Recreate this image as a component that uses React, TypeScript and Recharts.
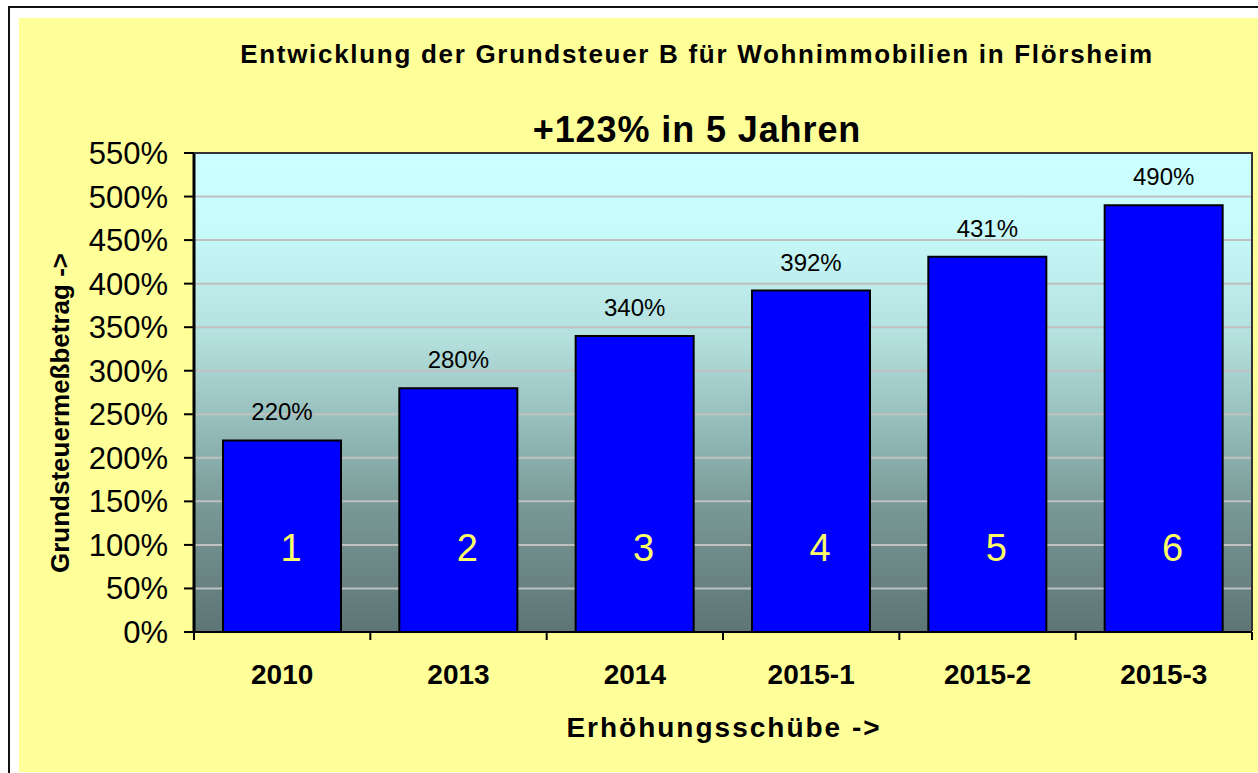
import { BarChart, Bar, XAxis, YAxis, CartesianGrid, LabelList } from 'recharts';

const categories = ['2010', '2013', '2014', '2015-1', '2015-2', '2015-3'];
const hebesatz = [220, 280, 340, 392, 431, 490];
const steps = [1, 2, 3, 4, 5, 6];
const yTicks = [0, 50, 100, 150, 200, 250, 300, 350, 400, 450, 500, 550];

const data = categories.map((name, i) => ({ name, value: hebesatz[i], step: steps[i] }));

const FONT = '"Liberation Sans", Arial, sans-serif';
const W = 1258;
const H = 773;
const PLOT = { left: 194, top: 153, right: 1252, bottom: 632 };
const Y_AXIS_W = 150;
const X_AXIS_H = 130;
const half = (PLOT.right - PLOT.left) / categories.length / 2;

function XTick(props: any) {
  const { x, y, payload, index } = props;
  const last = index === categories.length - 1;
  return (
    <g>
      <line x1={x - half} x2={x - half} y1={y} y2={y + 8} stroke="#000" strokeWidth={2} />
      {last && <line x1={x + half} x2={x + half} y1={y} y2={y + 8} stroke="#000" strokeWidth={2} />}
      <text x={x} y={y + 52} textAnchor="middle" fontSize={28} fontWeight="bold" fill="#000" fontFamily={FONT}>
        {payload.value}
      </text>
    </g>
  );
}

function StepLabel(props: any) {
  const { x, y, width, height, value } = props;
  return (
    <text
      x={Number(x) + Number(width) / 2 + 9}
      y={Number(y) + Number(height) - 71}
      textAnchor="middle"
      fontSize={38}
      fill="#FFFF66"
      fontFamily={FONT}
    >
      {value}
    </text>
  );
}

export default function App() {
  return (
    <div style={{ position: 'absolute', left: 0, top: 0, width: W, height: H, background: '#fff', overflow: 'hidden', fontFamily: FONT }}>
      <svg width={0} height={0} style={{ position: 'absolute' }}>
        <defs>
          <linearGradient id="plotBg" x1="0" y1="0" x2="0" y2="1">
            <stop offset="0" stopColor="#CCFFFF" />
            <stop offset="0.15" stopColor="#C8FBFB" />
            <stop offset="0.39" stopColor="#B3DFDD" />
            <stop offset="0.6" stopColor="#8FB6B3" />
            <stop offset="0.75" stopColor="#789794" />
            <stop offset="1" stopColor="#5D7575" />
          </linearGradient>
        </defs>
      </svg>
      <div style={{ position: 'absolute', left: 8, top: 6, width: 1300, height: 820, border: '2px solid #111', boxSizing: 'border-box' }} />
      <div style={{ position: 'absolute', left: 19, top: 18, right: 0, height: 754, background: '#FFFF99' }} />
      <div style={{ position: 'absolute', left: 0, width: 1394, top: 39, textAlign: 'center', fontSize: 26, fontWeight: 'bold', letterSpacing: 1.7, whiteSpace: 'nowrap' }}>
        Entwicklung der Grundsteuer B für Wohnimmobilien in Flörsheim
      </div>
      <div style={{ position: 'absolute', left: 0, width: 1394, top: 109, textAlign: 'center', fontSize: 36, fontWeight: 'bold', letterSpacing: 0.9, whiteSpace: 'nowrap' }}>
        +123% in 5 Jahren
      </div>
      <div style={{ position: 'absolute', left: 0, width: 1448, top: 712, textAlign: 'center', fontSize: 28, fontWeight: 'bold', letterSpacing: 2, whiteSpace: 'nowrap' }}>
        Erhöhungsschübe -&gt;
      </div>
      <div style={{ position: 'absolute', left: 60, top: 413, width: 0, height: 0 }}>
        <div style={{ position: 'absolute', transform: 'translate(-50%, -50%) rotate(-90deg)', fontSize: 26, fontWeight: 'bold', whiteSpace: 'nowrap' }}>
          Grundsteuermeßbetrag -&gt;
        </div>
      </div>
      <div style={{ position: 'absolute', left: 0, top: 0 }}>
        <BarChart
          width={W}
          height={H}
          data={data}
          barCategoryGap={29}
          margin={{ top: PLOT.top, right: W - PLOT.right, bottom: H - PLOT.bottom - X_AXIS_H, left: PLOT.left - Y_AXIS_W }}
          style={{ fontFamily: FONT }}
        >
          <CartesianGrid vertical={false} stroke="#C0C0C0" strokeWidth={2} fill="url(#plotBg)" fillOpacity={1} />
          <XAxis
            dataKey="name"
            height={X_AXIS_H}
            tickLine={false}
            tickSize={0}
            tickMargin={0}
            interval={0}
            axisLine={{ stroke: '#000', strokeWidth: 2 }}
            tick={<XTick />}
          />
          <YAxis
            width={Y_AXIS_W}
            domain={[0, 550]}
            ticks={yTicks}
            interval={0}
            tickFormatter={(v) => `${v}%`}
            tickSize={10}
            tickMargin={16}
            tickLine={{ stroke: '#000', strokeWidth: 2 }}
            axisLine={{ stroke: '#000', strokeWidth: 3 }}
            tick={{ fontSize: 31, fill: '#000', fontFamily: FONT }}
          />
          <Bar dataKey="value" fill="#0000FF" stroke="#000" strokeWidth={2} isAnimationActive={false}>
            <LabelList dataKey="value" position="top" offset={20} formatter={(v: any) => `${v}%`} fontSize={24} fill="#000" fontFamily={FONT} />
            <LabelList dataKey="step" content={<StepLabel />} />
          </Bar>
        </BarChart>
      </div>
      <div
        style={{
          position: 'absolute',
          left: PLOT.left,
          top: PLOT.top - 1,
          width: PLOT.right - PLOT.left + 1,
          height: PLOT.bottom - PLOT.top,
          borderTop: '2px solid #333',
          borderRight: '2px solid #333',
          boxSizing: 'border-box',
          pointerEvents: 'none',
        }}
      />
    </div>
  );
}
